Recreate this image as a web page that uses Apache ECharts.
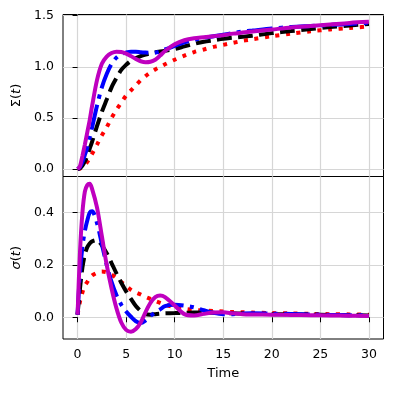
<!DOCTYPE html>
<html>
<head>
<meta charset="utf-8" />
<script src="https://cdn.jsdelivr.net/npm/echarts@6/dist/echarts.min.js"></script>
<style>
  html,
  body {
    margin: 0;
    padding: 0;
    background: #fff;
  }
  #chart {
    width: 396px;
    height: 394px;
  }
</style>
</head>
<body>
<div id="chart"></div>
<script>
// sample times shared by every curve
const time = [0, 0.25, 0.5, 0.75, 1, 1.25, 1.5, 2, 2.5, 3, 3.5, 4, 4.5, 5, 5.5, 6, 6.5, 7, 7.5, 8, 8.5, 9, 10, 11, 12, 13, 14, 15, 16, 17, 18, 20, 22, 24, 26, 28, 30];

// Σ(t), upper panel
const sigmaRed = [0, 0.005, 0.02, 0.04, 0.07, 0.11, 0.15, 0.24, 0.33, 0.41, 0.5, 0.58, 0.65, 0.72, 0.77, 0.82, 0.87, 0.91, 0.945, 0.975, 1.0, 1.025, 1.07, 1.11, 1.145, 1.17, 1.195, 1.215, 1.235, 1.255, 1.27, 1.3, 1.325, 1.348, 1.366, 1.38, 1.395];
const sigmaBlack = [0, 0.01, 0.035, 0.075, 0.13, 0.2, 0.27, 0.42, 0.56, 0.68, 0.8, 0.89, 0.97, 1.02, 1.06, 1.085, 1.105, 1.12, 1.132, 1.142, 1.15, 1.158, 1.175, 1.2, 1.225, 1.245, 1.26, 1.275, 1.285, 1.295, 1.305, 1.33, 1.35, 1.37, 1.39, 1.405, 1.42];
const sigmaBlue = [0, 0.02, 0.07, 0.14, 0.21, 0.31, 0.41, 0.62, 0.8, 0.93, 1.03, 1.09, 1.125, 1.14, 1.148, 1.148, 1.143, 1.14, 1.138, 1.14, 1.15, 1.17, 1.205, 1.24, 1.265, 1.285, 1.3, 1.315, 1.33, 1.345, 1.355, 1.375, 1.39, 1.4, 1.41, 1.42, 1.43];
const sigmaMagenta = [0, 0.03, 0.13, 0.24, 0.36, 0.48, 0.62, 0.87, 1.03, 1.1, 1.135, 1.148, 1.145, 1.13, 1.105, 1.077, 1.055, 1.045, 1.05, 1.07, 1.11, 1.155, 1.22, 1.26, 1.28, 1.29, 1.3, 1.31, 1.325, 1.335, 1.345, 1.365, 1.385, 1.4, 1.415, 1.43, 1.44];

// σ(t), lower panel
const rateRed = [0.01, 0.06, 0.095, 0.12, 0.135, 0.15, 0.16, 0.17, 0.175, 0.172, 0.163, 0.15, 0.135, 0.12, 0.105, 0.095, 0.087, 0.078, 0.07, 0.062, 0.055, 0.048, 0.039, 0.032, 0.028, 0.026, 0.024, 0.022, 0.02, 0.019, 0.018, 0.016, 0.015, 0.013, 0.012, 0.011, 0.01];
const rateBlack = [0.01, 0.11, 0.19, 0.24, 0.268, 0.282, 0.29, 0.295, 0.275, 0.245, 0.207, 0.168, 0.132, 0.099, 0.07, 0.043, 0.024, 0.012, 0.01, 0.012, 0.014, 0.015, 0.016, 0.017, 0.018, 0.018, 0.017, 0.016, 0.015, 0.014, 0.013, 0.012, 0.011, 0.01, 0.009, 0.008, 0.007];
const rateBlue = [0.01, 0.17, 0.27, 0.33, 0.37, 0.4, 0.405, 0.36, 0.28, 0.2, 0.135, 0.085, 0.048, 0.022, 0.002, -0.015, -0.022, -0.012, 0.005, 0.018, 0.03, 0.043, 0.048, 0.045, 0.038, 0.027, 0.017, 0.012, 0.012, 0.014, 0.015, 0.014, 0.013, 0.011, 0.009, 0.008, 0.007];
const rateMagenta = [0.01, 0.25, 0.4, 0.48, 0.505, 0.51, 0.49, 0.42, 0.31, 0.2, 0.11, 0.035, -0.02, -0.048, -0.055, -0.045, -0.02, 0.02, 0.055, 0.077, 0.083, 0.077, 0.045, 0.012, 0.007, 0.013, 0.018, 0.019, 0.015, 0.012, 0.011, 0.01, 0.009, 0.008, 0.007, 0.006, 0.005];

// tick labels
const timeTicks = [0, 5, 10, 15, 20, 25, 30];
const sigmaTicks = [0, 0.5, 1, 1.5];
const rateTicks = [0, 0.2, 0.4];

const font = "DejaVu Sans";
const fontSize = 12.5;

function pairs(values) {
  return time.map((t, i) => [t, values[i]]);
}

function line(name, values, color, dash, idx) {
  return {
    name: name,
    type: "line",
    xAxisIndex: idx,
    yAxisIndex: idx,
    data: pairs(values),
    smooth: 0.3,
    showSymbol: false,
    symbol: "none",
    lineStyle: {
      color: color,
      width: 4,
      type: dash,
      cap: "butt"
    }
  };
}

function xAxis(idx, showLabels) {
  return {
    type: "value",
    gridIndex: idx,
    min: -1.5,
    max: 31.5,
    axisLine: { show: false },
    axisTick: {
      show: showLabels,
      customValues: timeTicks,
      length: 5,
      lineStyle: { color: "#000", width: 1 }
    },
    axisLabel: {
      show: showLabels,
      customValues: timeTicks,
      margin: 9,
      color: "#000",
      fontFamily: font,
      fontSize: fontSize,
      formatter: function(v) {
        return String(v);
      }
    },
    splitLine: { lineStyle: { color: "#d6d6d6", width: 1.2 } },
    name: showLabels ? "Time" : "",
    nameLocation: "middle",
    nameGap: 28,
    nameTextStyle: { color: "#000", fontFamily: font, fontSize: 13 }
  };
}

function yAxis(idx, min, max, ticks, name) {
  return {
    type: "value",
    gridIndex: idx,
    min: min,
    max: max,
    splitNumber: 3,
    axisLine: { show: false },
    axisTick: {
      customValues: ticks,
      length: 5,
      lineStyle: { color: "#000", width: 1 }
    },
    axisLabel: {
      customValues: ticks,
      margin: 9,
      color: "#000",
      fontFamily: font,
      fontSize: fontSize,
      formatter: function(v) {
        return v.toFixed(1);
      }
    },
    splitLine: { lineStyle: { color: "#d6d6d6", width: 1.2 } },
    name: name,
    nameLocation: "middle",
    nameRotate: 90,
    nameGap: 33,
    nameTextStyle: {
      color: "#000",
      fontFamily: font,
      fontSize: 13,
      rich: {
        n: { fontFamily: font, fontSize: 13, color: "#000" },
        i: { fontFamily: font, fontSize: 13, color: "#000", fontStyle: "italic" }
      }
    }
  };
}

const chart = echarts.init(document.getElementById("chart"), null, { renderer: "canvas" });
chart.setOption({
  animation: false,
  backgroundColor: "#fff",
  grid: [
    { left: 63, right: 12.5, top: 14.5, height: 162, show: true, borderColor: "#000", borderWidth: 1 },
    { left: 63, right: 12.5, top: 176.5, height: 162.5, show: true, borderColor: "#000", borderWidth: 1 }
  ],
  xAxis: [xAxis(0, false), xAxis(1, true)],
  yAxis: [
    yAxis(0, -0.072, 1.512, sigmaTicks, "{n|Σ(}{i|t}{n|)}"),
    yAxis(1, -0.083, 0.538, rateTicks, "{i|σ}{n|(}{i|t}{n|)}")
  ],
  series: [
    line("red", sigmaRed, "#ff0000", [4, 6.6], 0),
    line("black", sigmaBlack, "#000000", [14.8, 6.4], 0),
    line("blue", sigmaBlue, "#0000ff", [25.6, 6.4, 4, 6.4], 0),
    line("magenta", sigmaMagenta, "#bf00bf", "solid", 0),
    line("red", rateRed, "#ff0000", [4, 6.6], 1),
    line("black", rateBlack, "#000000", [14.8, 6.4], 1),
    line("blue", rateBlue, "#0000ff", [25.6, 6.4, 4, 6.4], 1),
    line("magenta", rateMagenta, "#bf00bf", "solid", 1)
  ]
});
</script>
</body>
</html>
